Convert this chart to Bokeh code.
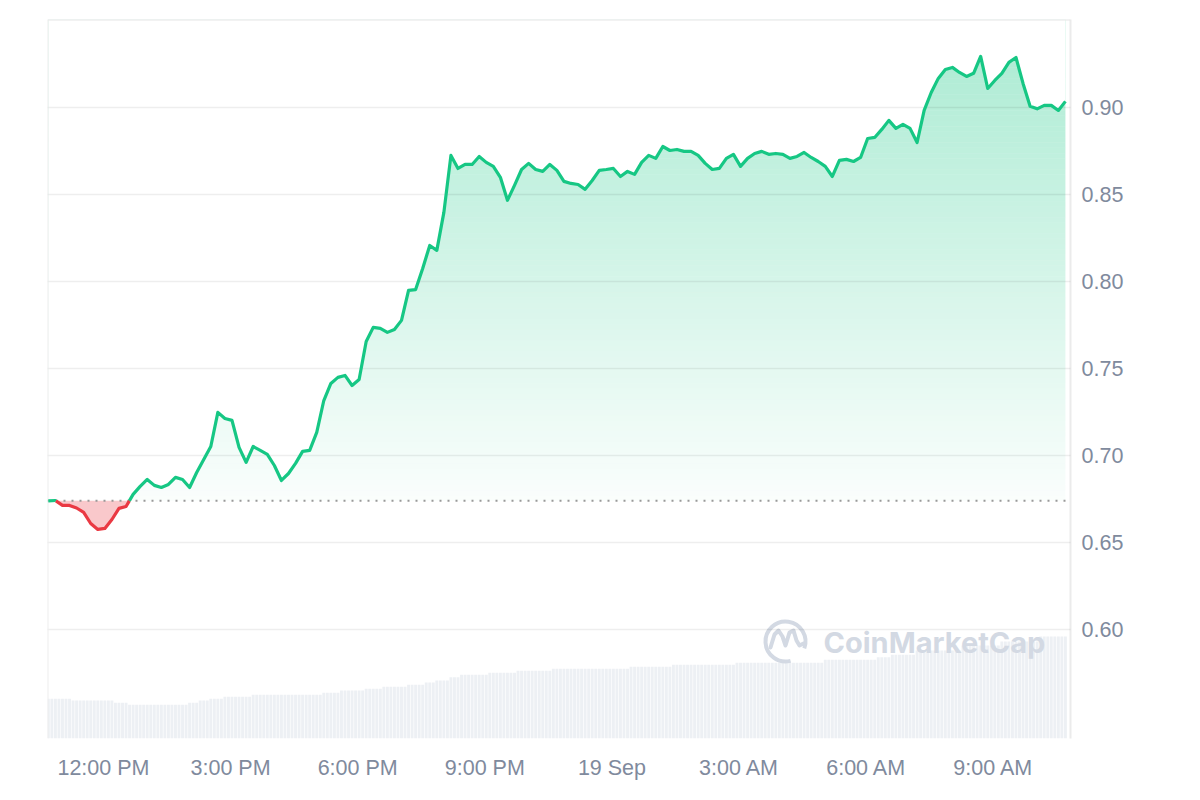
import numpy as np
from bokeh.plotting import figure
from bokeh.models import Range1d, FixedTicker, NumeralTickFormatter, Span
from bokeh.embed import file_html
from bokeh.resources import INLINE
from bokeh.core.properties import value

# ---------------- data ----------------
# time axis: hours since 18 Sep 00:00, one price every 10 minutes
start_hour = 10.70
step_minutes = 10
prices = [
    0.6740, 0.6742, 0.6714, 0.6714, 0.6699, 0.6674, 0.6610, 0.6576, 0.6582, 0.6633,
    0.6697, 0.6708, 0.6777, 0.6823, 0.6863, 0.6829, 0.6817, 0.6834, 0.6875, 0.6863,
    0.6817, 0.6903, 0.6978, 0.7052, 0.7248, 0.7213, 0.7202, 0.7047, 0.6961, 0.7052,
    0.7030, 0.7007, 0.6943, 0.6857, 0.6897, 0.6955, 0.7024, 0.7030, 0.7133, 0.7316,
    0.7414, 0.7449, 0.7460, 0.7402, 0.7437, 0.7655, 0.7736, 0.7730, 0.7707, 0.7724,
    0.7776, 0.7948, 0.7953, 0.8074, 0.8206, 0.8178, 0.8396, 0.8723, 0.8648, 0.8671,
    0.8671, 0.8717, 0.8683, 0.8660, 0.8597, 0.8465, 0.8551, 0.8642, 0.8677, 0.8642,
    0.8631, 0.8671, 0.8637, 0.8574, 0.8562, 0.8556, 0.8528, 0.8579, 0.8637, 0.8642,
    0.8648, 0.8602, 0.8631, 0.8614, 0.8683, 0.8723, 0.8706, 0.8774, 0.8751, 0.8757,
    0.8746, 0.8746, 0.8723, 0.8677, 0.8642, 0.8648, 0.8706, 0.8729, 0.8660, 0.8706,
    0.8734, 0.8746, 0.8729, 0.8734, 0.8729, 0.8706, 0.8717, 0.8740, 0.8711, 0.8688,
    0.8660, 0.8602, 0.8694, 0.8700, 0.8688, 0.8711, 0.8820, 0.8826, 0.8872, 0.8924,
    0.8878, 0.8901, 0.8878, 0.8797, 0.8981, 0.9084, 0.9165, 0.9216, 0.9228, 0.9199,
    0.9176, 0.9194, 0.9291, 0.9107, 0.9153, 0.9194, 0.9257, 0.9285, 0.9136, 0.9005,
    0.8990, 0.9010, 0.9010, 0.8981, 0.9033,
]

# 24h volume (arbitrary units), a bar every 5 minutes; level changes at these hours
vol_step_minutes = 5
vol_change_hours = [10.70, 11.27, 12.28, 12.59, 14.01, 14.22, 14.52, 14.81, 15.47, 17.19,
                    17.55, 18.13, 18.54, 19.13, 19.55, 19.79, 20.14, 20.38, 21.06, 21.72,
                    22.55, 24.39, 25.45, 26.91, 28.97, 30.22, 30.57, 31.16, 32.22, 33.17,
                    34.11]
vol_levels = [3.97, 3.80, 3.57, 3.37, 3.57, 3.80, 3.97, 4.17, 4.37, 4.57,
              4.80, 4.97, 5.17, 5.37, 5.60, 5.80, 6.13, 6.37, 6.57, 6.77,
              6.97, 7.17, 7.37, 7.57, 7.87, 8.13, 8.37, 8.80, 9.30, 9.70,
              10.20]

tick_hours = [12, 15, 18, 21, 24, 27, 30, 33]
tick_labels = ["12:00 PM", "3:00 PM", "6:00 PM", "9:00 PM", "19 Sep", "3:00 AM", "6:00 AM", "9:00 AM"]
price_ticks = [0.60, 0.65, 0.70, 0.75, 0.80, 0.85, 0.90]

# ---------------- derived ----------------
prices = np.array(prices)
t = start_hour + np.arange(len(prices)) * step_minutes / 60.0
base = prices[0]

XR0, XR1 = 10.68, 34.82
YR0, YR1 = 0.5376, 0.9503

# insert exact baseline crossings so the colours switch cleanly
dt, dy = [t[0]], [prices[0]]
for i in range(1, len(prices)):
    a, b = prices[i - 1] - base, prices[i] - base
    if a * b < 0:
        tc = t[i - 1] + (-a) / (b - a) * (t[i] - t[i - 1])
        dt.append(tc)
        dy.append(base)
    dt.append(t[i])
    dy.append(prices[i])
dt, dy = np.array(dt), np.array(dy)
green_y = np.where(dy >= base - 1e-12, dy, np.nan)
red_y = np.where(dy <= base + 1e-12, dy, np.nan)

n_bars = int(round((t[-1] - t[0]) * 60 / vol_step_minutes)) + 1
vol_t = start_hour + np.arange(n_bars) * vol_step_minutes / 60.0
idx = np.searchsorted(np.array(vol_change_hours), vol_t, side="right") - 1
vol_v = np.array(vol_levels)[np.clip(idx, 0, len(vol_levels) - 1)]

GREEN = "#16c784"
RED = "#ea3943"
TXT = "#808a9d"
WM = "#d3d9e3"

W, H = 1184, 784
FL, FT, FR, FB = 47, 19, 1070, 738   # frame edges in page pixels
p = figure(width=W, height=H, output_backend="svg", toolbar_location=None,
           x_range=Range1d(XR0, XR1), y_range=Range1d(YR0, YR1),
           y_axis_location="right",
           min_border_left=FL, min_border_right=W - FR, min_border_top=FT,
           min_border_bottom=H - FB)
p.outline_line_color = None
p.background_fill_color = "white"
p.border_fill_color = "white"
p.extra_y_ranges = {"vol": Range1d(0, 71.9)}

# volume bars
p.vbar(x=vol_t, top=vol_v, bottom=0, width=vol_step_minutes / 60.0 * 0.82,
       fill_color="#edf0f4", line_color=None, y_range_name="vol")

# gradient fill above baseline: horizontal bands, masked above the line
nb = 90
lv = np.linspace(base, YR1, nb + 1)
mids = 0.5 * (lv[:-1] + lv[1:])
alphas = np.clip(0.02 + (0.33 - 0.02) * (mids - base) / (0.92 - base), 0, 0.36)
p.quad(left=t[0], right=t[-1], bottom=lv[:-1], top=lv[1:], fill_color=GREEN,
       fill_alpha=alphas, line_color=None)
p.varea(x=dt, y1=dy, y2=YR1 + 0.01, fill_color="white", fill_alpha=1.0)

# red fill below baseline
p.varea(x=dt, y1=np.minimum(dy, base), y2=base, fill_color=RED, fill_alpha=0.28)

# watermark
def px_x(px):
    return XR0 + (px - FL) / (FR - FL) * (XR1 - XR0)

def px_y(py):
    return YR1 - (py - FT) / (FB - FT) * (YR1 - YR0)

p.text(x=[px_x(823)], y=[px_y(642)], text=["CoinMarketCap"], text_font=value("Inter"),
       text_font_style="bold", text_font_size="29px", text_color=WM,
       text_baseline="middle", text_align="left")
p.arc(x=[px_x(785)], y=[px_y(641)], radius=20, radius_units="screen",
      start_angle=-0.35, end_angle=4.97, direction="anticlock",
      line_color=WM, line_width=4)
mx = [770, 774, 778, 782, 785, 789, 793, 796, 799, 803]
my = [647, 634, 630, 636, 645, 632, 630, 640, 645, 643]
p.line(x=[px_x(v) for v in mx], y=[px_y(v) for v in my], line_color=WM, line_width=4,
       line_join="round", line_cap="round")

# lines
p.line(x=dt, y=green_y, line_color=GREEN, line_width=3.2, line_join="round", level="overlay")
p.line(x=dt, y=red_y, line_color=RED, line_width=3.2, line_join="round", level="overlay")

# baseline & borders
p.add_layout(Span(location=base, dimension="width", line_color="#999999",
                  line_width=2, line_dash="2 6"))
p.add_layout(Span(location=YR1, dimension="width", line_color="#e6e6e6", line_width=2))
p.add_layout(Span(location=XR0, dimension="height", line_color="#eeeeee", line_width=2))

# axes
ya = p.yaxis[0]
ya.ticker = FixedTicker(ticks=price_ticks)
ya.formatter = NumeralTickFormatter(format="0.00")
ya.major_label_text_font = "Liberation Sans"
ya.major_label_text_font_size = "21.5px"
ya.major_label_text_color = TXT
ya.major_tick_line_color = None
ya.minor_tick_line_color = None
ya.axis_line_color = "#ebebeb"
ya.axis_line_width = 2
ya.major_label_standoff = 5

xa = p.xaxis[0]
xa.ticker = FixedTicker(ticks=tick_hours)
xa.major_label_overrides = {h: lab for h, lab in zip(tick_hours, tick_labels)}
xa.major_label_text_font = "Liberation Sans"
xa.major_label_text_font_size = "21.5px"
xa.major_label_text_color = TXT
xa.major_tick_line_color = None
xa.minor_tick_line_color = None
xa.axis_line_color = None
xa.major_label_standoff = 11

p.xgrid.visible = False
p.ygrid.grid_line_color = "black"
p.ygrid.grid_line_alpha = 0.065
p.ygrid.grid_line_width = 1.5
p.ygrid.level = "annotation"

open("out.html", "w").write(file_html(p, INLINE))
